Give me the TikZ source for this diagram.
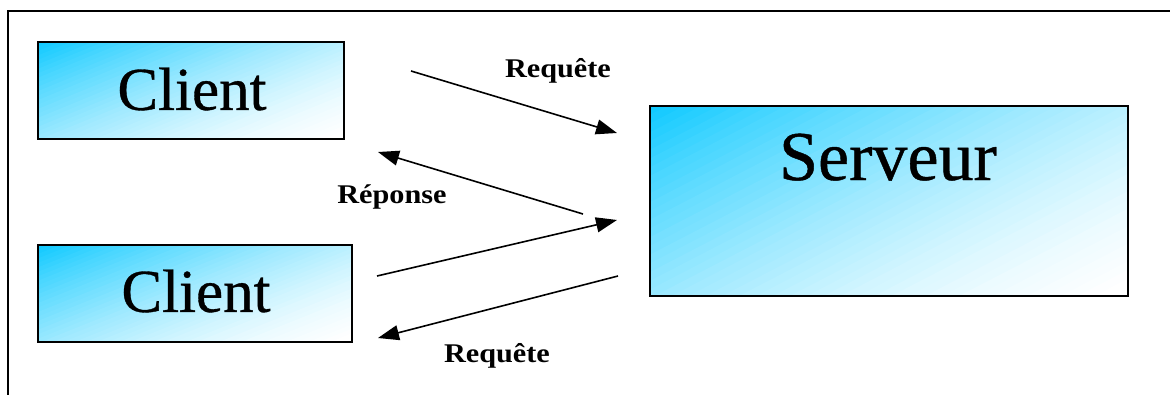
\documentclass[tikz,border=0pt]{standalone}
\usepackage{fontspec}
\setmainfont{Liberation Serif}
\newfontfamily\lblfont[FakeStretch=1.12]{Liberation Serif}
\newfontfamily\boxfont[FakeBold=0.6]{Liberation Serif}
\usetikzlibrary{arrows.meta}
\definecolor{skyfill}{RGB}{18,202,255}
% diagonal fill of the rectangle with upper left corner (#1,#2), width #3, height #4:
% sky blue in the upper left corner fading to white in the lower right,
% built from overlapping bands clipped to the rectangle
\newcommand\skyrect[4]{%
  \begin{scope}
    \clip (#1,#2) rectangle ++(#3,#4);
    \foreach \i in {0,...,50}{%
      \pgfmathsetmacro\cc{2.3*\i/50}%
      \pgfmathtruncatemacro\pct{100*(1-\i/50)^1.5}%
      \fill[skyfill!\pct!white] ({#1+#3*(\cc+5)/1.3},{#2-5*#4})
        -- ({#1+#3*(\cc-5)/1.3},{#2+5*#4}) -- ({#1+20*#3},{#2+20*#4}) -- cycle;
    }
  \end{scope}}
\tikzset{
  boxline/.style={draw=black, line width=2pt, inner sep=0pt},
  bigtext/.style={font=\boxfont\fontsize{61}{61}\selectfont, inner sep=0pt},
  lbl/.style={font=\lblfont\bfseries\fontsize{27}{27}\selectfont, inner sep=0pt},
  msg/.style={line width=1.6pt, -{Triangle[length=21pt,width=15pt]}},
  frame/.style={line width=2.4pt, line cap=rect}
}
\begin{document}
\begin{tikzpicture}[x=1pt,y=-1pt]
  \useasboundingbox (0,0) rectangle (1170,394);
  % partial outer frame
  \coordinate (fcorner) at (8,11);
  \coordinate (fright) at (1175,11);
  \coordinate (fbottom) at (8,400);
  \draw[frame] (fright) -- (fcorner) -- (fbottom);

  % box fills
  \skyrect{38}{42}{306}{97}
  \skyrect{38}{245}{314}{97}
  \skyrect{650}{106}{478}{190}

  % box outlines and texts
  \node[boxline, minimum width=306pt, minimum height=97pt] (c1) at (191,90.5) {};
  \node[bigtext] (c1t) at (192,89) {Client};
  \node[boxline, minimum width=314pt, minimum height=97pt] (c2) at (195,293.5) {};
  \node[bigtext] (c2t) at (196,291) {Client};
  \node[boxline, minimum width=478pt, minimum height=190pt] (srv) at (889,201) {};
  \node[font=\boxfont\fontsize{70}{70}\selectfont, inner sep=0pt, anchor=base] (srvt) at (888,180) {Serveur};

  % message arrows
  \coordinate (a1s) at (411,71);  \coordinate (a1e) at (617,133);
  \coordinate (a2s) at (583,214); \coordinate (a2e) at (378,152);
  \coordinate (a3s) at (377,276); \coordinate (a3e) at (617,220);
  \coordinate (a4s) at (618,276); \coordinate (a4e) at (378,338);
  \draw[msg] (a1s) -- (a1e);
  \draw[msg] (a2s) -- (a2e);
  \draw[msg] (a3s) -- (a3e);
  \draw[msg] (a4s) -- (a4e);

  % labels
  \node[lbl] (l1) at (558,71) {Requête};
  \node[lbl] (l2) at (392,197) {Réponse};
  \node[lbl] (l3) at (497,356) {Requête};
\end{tikzpicture}
\end{document}
